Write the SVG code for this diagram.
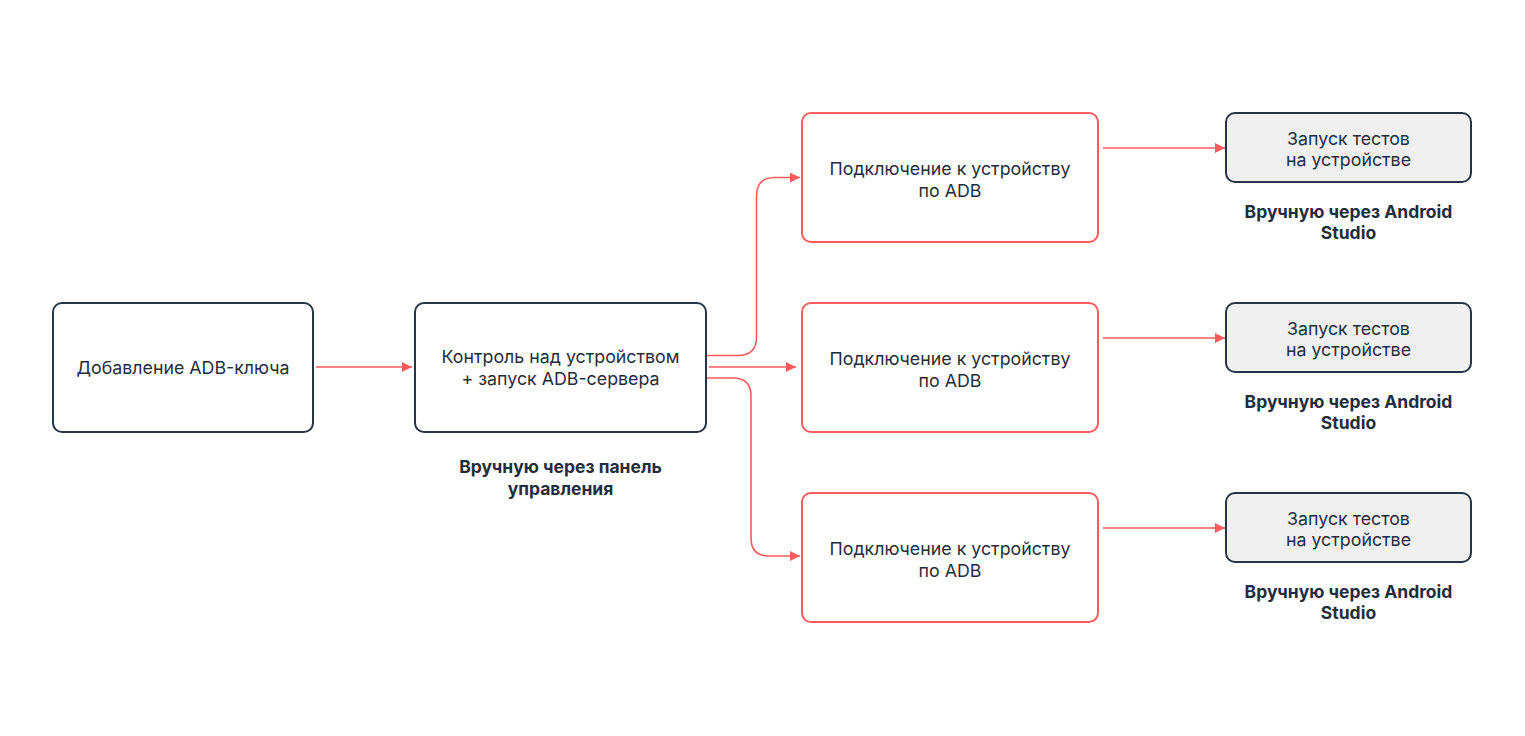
<svg xmlns="http://www.w3.org/2000/svg" width="1525" height="736" viewBox="0 0 1525 736">
<defs>
<style>
.dk{fill:#ffffff;stroke:#243646;stroke-width:2}
.rd{fill:#ffffff;stroke:#ff5a5c;stroke-width:2}
.gr{fill:#f0f0f1;stroke:#243646;stroke-width:2}
.t{font-family:Inter,"Noto Sans","Liberation Sans",sans-serif;font-size:17.8px;fill:#1f2e3b;text-anchor:middle}
.b{font-family:Inter,"Noto Sans","Liberation Sans",sans-serif;font-size:17.5px;font-weight:700;fill:#1f2e3b;text-anchor:middle}
.c{fill:none;stroke:#ff5a5c;stroke-width:1.6}
</style>
<marker id="ah" viewBox="0 0 10 10" refX="10" refY="5" markerWidth="10" markerHeight="10" markerUnits="userSpaceOnUse" orient="auto">
<path d="M0,0 L10,5 L0,10 z" fill="#ff5a5c"/>
</marker>
</defs>
<rect width="1525" height="736" fill="#ffffff"/>
<g id="connectors">
<path class="c" d="M316,367 H412" marker-end="url(#ah)"/>
<path class="c" d="M707,355.5 H738 Q756.5,355.5 756.5,337 V196 Q756.5,177.5 775,177.5 H800" marker-end="url(#ah)"/>
<path class="c" d="M709,367 H796" marker-end="url(#ah)"/>
<path class="c" d="M707,378 H733 Q751,378 751,396 V538 Q751,556 769,556 H800" marker-end="url(#ah)"/>
<path class="c" d="M1103,148 H1225" marker-end="url(#ah)"/>
<path class="c" d="M1103,338 H1225" marker-end="url(#ah)"/>
<path class="c" d="M1103,528 H1225" marker-end="url(#ah)"/>
</g>
<g id="n1">
<rect class="dk" x="53" y="303" width="260" height="129" rx="9"/>
<text class="t" x="183" y="374">Добавление ADB-ключа</text>
</g>
<g id="n2">
<rect class="dk" x="415" y="303" width="291" height="129" rx="9"/>
<text class="t" x="560.5" y="362.5">Контроль над устройством</text>
<text class="t" x="560.5" y="384.5">+ запуск ADB-сервера</text>
<text class="b" x="560.5" y="473">Вручную через панель</text>
<text class="b" x="560.5" y="495">управления</text>
</g>
<g id="r1">
<rect class="rd" x="802" y="113" width="296" height="129" rx="9"/>
<text class="t" x="950" y="174.5">Подключение к устройству</text>
<text class="t" x="950" y="196.5">по ADB</text>
</g>
<g id="r2">
<rect class="rd" x="802" y="303" width="296" height="129" rx="9"/>
<text class="t" x="950" y="364.5">Подключение к устройству</text>
<text class="t" x="950" y="386.5">по ADB</text>
</g>
<g id="r3">
<rect class="rd" x="802" y="493" width="296" height="129" rx="9"/>
<text class="t" x="950" y="554.5">Подключение к устройству</text>
<text class="t" x="950" y="576.5">по ADB</text>
</g>
<g id="g1">
<rect class="gr" x="1226" y="113" width="245" height="69" rx="9"/>
<text class="t" x="1348.5" y="144.5">Запуск тестов</text>
<text class="t" x="1348.5" y="166">на устройстве</text>
<text class="b" x="1348.5" y="218">Вручную через Android</text>
<text class="b" x="1348.5" y="239">Studio</text>
</g>
<g id="g2">
<rect class="gr" x="1226" y="303" width="245" height="69" rx="9"/>
<text class="t" x="1348.5" y="334.5">Запуск тестов</text>
<text class="t" x="1348.5" y="356">на устройстве</text>
<text class="b" x="1348.5" y="408">Вручную через Android</text>
<text class="b" x="1348.5" y="429">Studio</text>
</g>
<g id="g3">
<rect class="gr" x="1226" y="493" width="245" height="69" rx="9"/>
<text class="t" x="1348.5" y="524.5">Запуск тестов</text>
<text class="t" x="1348.5" y="546">на устройстве</text>
<text class="b" x="1348.5" y="598">Вручную через Android</text>
<text class="b" x="1348.5" y="619">Studio</text>
</g>
</svg>
